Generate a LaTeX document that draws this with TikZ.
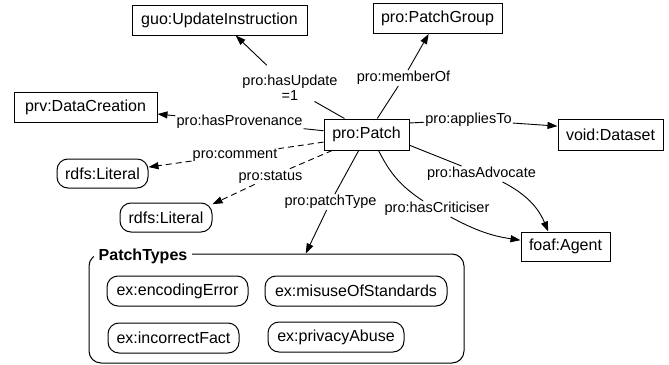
\documentclass[tikz,border=0pt]{standalone}
\usepackage{fontspec}
\setmainfont{Liberation Sans}
\usetikzlibrary{arrows.meta}
\begin{document}
\begin{tikzpicture}[x=1pt,y=-1pt,
  box/.style={draw, line width=1pt, minimum height=30pt, inner xsep=4pt, inner ysep=0pt, font=\fontsize{16}{19}\selectfont},
  lit/.style={box, rounded corners=11pt},
  lbl/.style={inner sep=1pt, font=\fontsize{14.5}{15}\selectfont},
  edge/.style={line width=0.9pt},
  arr/.style={edge, -{Triangle[length=10pt,width=7pt]}},
  dsh/.style={dash pattern=on 6pt off 4pt}
]
\useasboundingbox[fill=white] (0,0) rectangle (669,364);

% nodes
\node[box, minimum width=175pt] (guo) at (219.5,20) {guo:UpdateInstruction};
\node[box, minimum width=129pt] (pg) at (437.5,18.5) {pro:PatchGroup};
\node[box, minimum width=143pt] (prv) at (85.5,107) {prv:DataCreation};
\node[box, minimum width=85pt, minimum height=31pt] (patch) at (366.5,134.5) {pro:Patch};
\node[box, minimum width=105pt, minimum height=31pt] (void) at (610.5,134.5) {void:Dataset};
\node[lit, minimum width=91pt, minimum height=29pt] (lit1) at (102.5,173.5) {rdfs:Literal};
\node[lit, minimum width=92pt, minimum height=29pt] (lit2) at (166,217.5) {rdfs:Literal};
\node[box, minimum width=89pt, minimum height=29pt] (foaf) at (565.5,246.5) {foaf:Agent};

% group
\node[draw, line width=1pt, rounded corners=12pt, minimum width=375pt, minimum height=109pt, inner sep=0pt] (grp) at (276.5,308.5) {};
\node[fill=white, inner xsep=5pt, inner ysep=2pt, font=\fontsize{16}{19}\selectfont\bfseries] (ptl) at (143,256) {PatchTypes};
\node[lit, minimum width=141pt] (enc) at (177.5,291) {ex:encodingError};
\node[lit, minimum width=182pt] (mis) at (356,291) {ex:misuseOfStandards};
\node[lit, minimum width=131pt] (inc) at (173.5,338) {ex:incorrectFact};
\node[lit, minimum width=136pt] (priv) at (336,337) {ex:privacyAbuse};

% edge labels
\node[lbl, align=center] (lupd) at (290,87.5) {pro:hasUpdate\\=1};
\node[lbl] (lmem) at (403.5,78) {pro:memberOf};
\node[lbl] (lapp) at (468.5,120) {pro:appliesTo};
\node[lbl] (lprov) at (239.5,122) {pro:hasProvenance};
\node[lbl] (lcom) at (235,155) {pro:comment};
\node[lbl] (lstat) at (270.5,177) {pro:status};
\node[lbl] (lpt) at (330.5,202) {pro:patchType};
\node[lbl] (lcrit) at (437,209) {pro:hasCriticiser};
\node[lbl] (ladv) at (481.5,174) {pro:hasAdvocate};

% edges
\draw[edge] (patch.144) -- (lupd);
\draw[arr, shorten <=12pt] (lupd) -- (guo);
\draw[edge] (patch.56) -- (lmem);
\draw[arr] (lmem) -- (pg);
\draw[edge] (patch.15) -- (lapp);
\draw[arr] (lapp) -- (void.171);
\draw[edge] (patch.175) -- (lprov);
\draw[arr] (lprov) -- (prv);
\draw[edge, dsh] (patch.190) -- (lcom);
\draw[arr, dsh] (lcom) -- (lit1);
\draw[edge, dsh] (patch.205) -- (lstat);
\draw[arr, dsh] (lstat) -- (lit2.16);
\draw[edge] (patch.244) -- (lpt);
\draw[arr] (lpt) -- (grp.62);
\draw[edge] (patch.307) to[bend right=15] (lcrit);
\draw[arr] (lcrit) to[bend right=10] (foaf.172);
\draw[edge] (patch.346) -- (ladv);
\draw[arr] (ladv) to[bend left=20] (foaf.139);
\end{tikzpicture}
\end{document}
